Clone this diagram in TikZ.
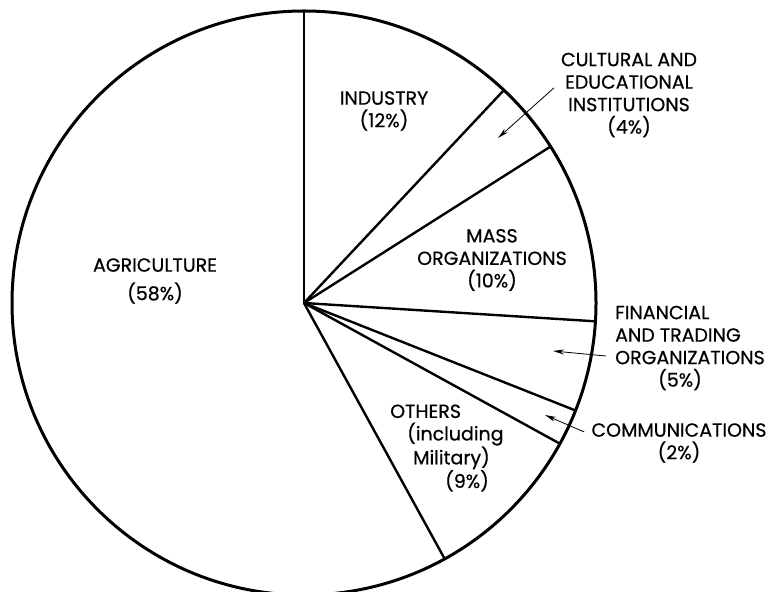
\documentclass[tikz,border=0pt]{standalone}
\usepackage{fontspec}
\setmainfont{Poppins}
\newfontfamily\lblfont{Poppins}[FakeBold=0.6]
\usetikzlibrary{arrows.meta}
\begin{document}
\begin{tikzpicture}[x=1pt,y=1pt]
\tikzset{lbl/.style={font=\lblfont\fontsize{19}{22.5}\selectfont, inner sep=3pt},
  rim/.style={line width=3pt},
  spoke/.style={line width=2.4pt},
  ptr/.style={line width=0.8pt, -{Stealth[length=11pt,width=5pt]}}}
\useasboundingbox (0,0) rectangle (778,591);
\coordinate (ctr) at (304,288);
\draw[rim] (ctr) circle (292);
\path (ctr) ++(90:292) coordinate (bd0);
\path (ctr) ++(46.8:292) coordinate (bd1);
\path (ctr) ++(32.4:292) coordinate (bd2);
\path (ctr) ++(-3.6:292) coordinate (bd3);
\path (ctr) ++(-21.6:292) coordinate (bd4);
\path (ctr) ++(-28.8:292) coordinate (bd5);
\path (ctr) ++(-61.2:292) coordinate (bd6);
\draw[spoke](ctr) -- (bd0);
\draw[spoke](ctr) -- (bd1);
\draw[spoke](ctr) -- (bd2);
\draw[spoke](ctr) -- (bd3);
\draw[spoke](ctr) -- (bd4);
\draw[spoke](ctr) -- (bd5);
\draw[spoke](ctr) -- (bd6);

\node[lbl, align=center] (agri) at (155,310) {AGRICULTURE\\[6pt](58\%)};
\node[lbl, align=center] (ind) at (384,480) {INDUSTRY\\(12\%)};
\node[lbl, align=center] (cult) at (629,496) {CULTURAL AND\\EDUCATIONAL\\INSTITUTIONS\\(4\%)};
\node[lbl, align=center] (mass) at (492,331) {MASS\\ORGANIZATIONS\\(10\%)};
\node[lbl, align=left, anchor=west] (fin) at (612,243) {FINANCIAL\\AND TRADING\\ORGANIZATIONS\\\hspace*{43pt}(5\%)};
\node[lbl, align=center] (comm) at (679,148) {COMMUNICATIONS\\(2\%)};
\node[lbl, align=left, anchor=west] (oth) at (387,143) {OTHERS\\\hspace*{17pt}(including\\\hspace*{23pt}Military)\\\hspace*{55pt}(9\%)};

\coordinate (culttip) at (498,453);
\coordinate (fintip) at (553,240);
\coordinate (commtip) at (545,176);
\draw[ptr] ([shift={(-4pt,7pt)}]cult.west) -- (culttip);
\draw[ptr] ([shift={(-6pt,-8pt)}]fin.west) -- (fintip);
\draw[ptr] ([shift={(-4pt,11pt)}]comm.west) -- (commtip);
\end{tikzpicture}
\end{document}
